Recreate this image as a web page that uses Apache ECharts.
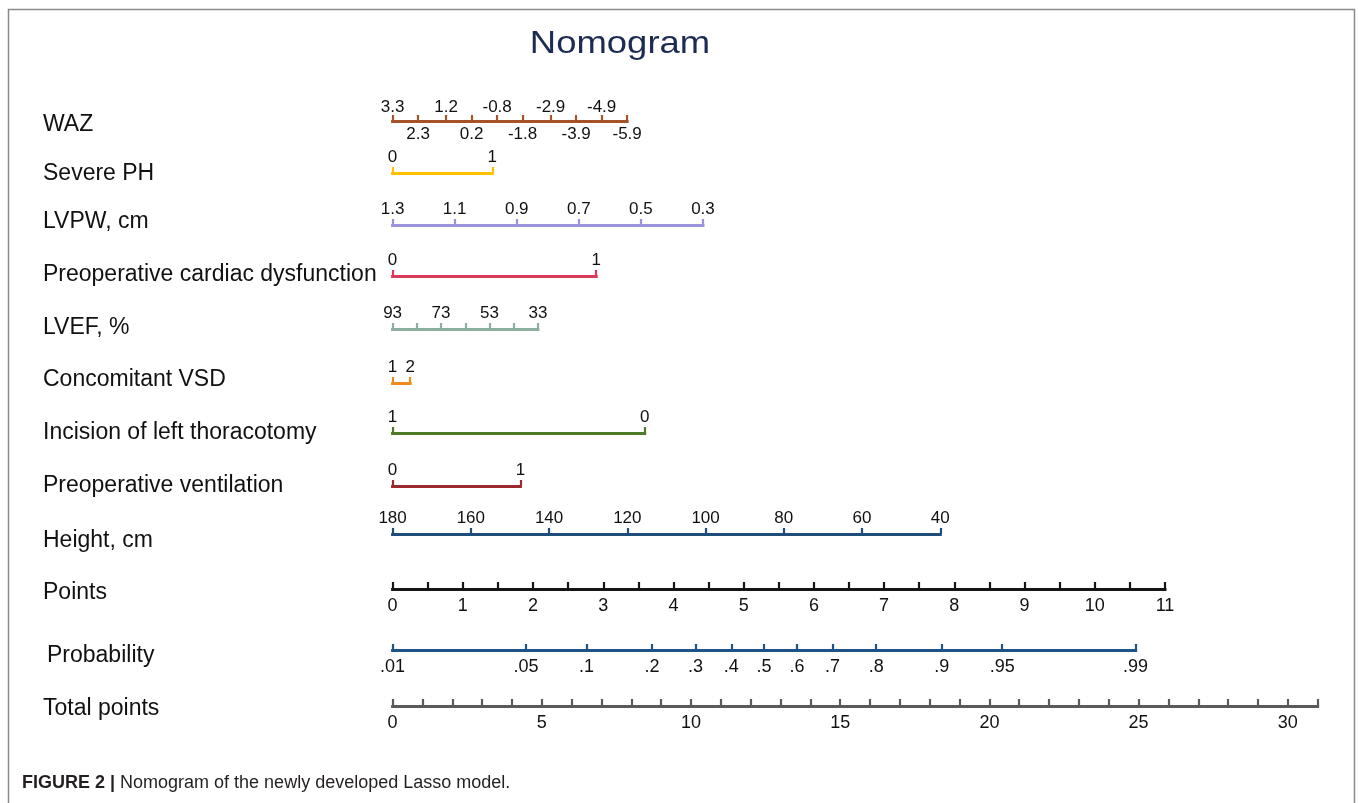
<!DOCTYPE html>
<html>
<head>
<meta charset="utf-8">
<title>Nomogram</title>
<script src="https://cdn.jsdelivr.net/npm/echarts@6.0.0/dist/echarts.min.js"></script>
<style>
  html, body { margin: 0; padding: 0; background: #ffffff; }
  #chart { width: 1358px; height: 803px; }
</style>
</head>
<body>
<div id="chart"></div>
<script>
// ---------------- data ----------------
const rowNames = ['WAZ', 'Severe PH', 'LVPW, cm', 'Preoperative cardiac dysfunction', 'LVEF, %',
  'Concomitant VSD', 'Incision of left thoracotomy', 'Preoperative ventilation', 'Height, cm',
  'Points', 'Probability', 'Total points'];

const wazTicks = [3.3, 2.3, 1.2, 0.2, -0.8, -1.8, -2.9, -3.9, -4.9, -5.9];
const wazLabelsAbove = [3.3, 1.2, -0.8, -2.9, -4.9];
const wazLabelsBelow = [2.3, 0.2, -1.8, -3.9, -5.9];
const severePH = [0, 1];
const lvpw = [1.3, 1.1, 0.9, 0.7, 0.5, 0.3];
const cardiacDysfunction = [0, 1];
const lvefTicks = [93, 83, 73, 63, 53, 43, 33];
const lvefLabels = [93, 73, 53, 33];
const concomitantVSD = [1, 2];
const incisionLeftThoracotomy = [1, 0];
const preopVentilation = [0, 1];
const heightCm = [180, 160, 140, 120, 100, 80, 60, 40];

const pointsTicks = [0, 0.5, 1, 1.5, 2, 2.5, 3, 3.5, 4, 4.5, 5, 5.5, 6, 6.5, 7, 7.5, 8, 8.5, 9, 9.5, 10, 10.5, 11];
const pointsLabels = [0, 1, 2, 3, 4, 5, 6, 7, 8, 9, 10, 11];
const probabilityValues = [0.01, 0.05, 0.1, 0.2, 0.3, 0.4, 0.5, 0.6, 0.7, 0.8, 0.9, 0.95, 0.99];
const probabilityLabels = ['.01', '.05', '.1', '.2', '.3', '.4', '.5', '.6', '.7', '.8', '.9', '.95', '.99'];
const totalPointsTicks = [0, 1, 2, 3, 4, 5, 6, 7, 8, 9, 10, 11, 12, 13, 14, 15, 16, 17, 18, 19, 20,
  21, 22, 23, 24, 25, 26, 27, 28, 29, 30, 31];
const totalPointsLabels = [0, 5, 10, 15, 20, 25, 30];

// points spanned by each predictor scale (in "Points" units)
const predictorPointSpan = [3.34, 1.42, 4.42, 2.90, 2.07, 0.25, 3.59, 1.82, 7.80];
// total points at which the probability scale ends (.01 sits at 0)
const probabilityTotalSpan = 24.9;

// ---------------- layout ----------------
const LEFT = 392.6;
const PX_PER_POINT = (1165 - LEFT) / 11;
const PX_PER_TOTAL = (1287.8 - LEFT) / 30;
const rowY = [121, 173, 225, 276, 329, 383, 433, 486, 534, 589, 650, 706];
const labelY = [125, 174, 222, 275, 328, 380, 433, 486, 541, 593, 656, 709];
const labelX = [43, 43, 43, 43, 43, 43, 43, 43, 43, 43, 47, 43];
const colors = ['#a5522b', '#ffc000', '#9b93dc', '#d93a5c', '#8caf9f', '#f08a1c',
  '#4f7a28', '#9a2a2e', '#1f4d7a', '#151515', '#1f5287', '#5a5a5a'];
const FONT = '"Liberation Sans", Arial, Helvetica, sans-serif';

const logit = p => Math.log(p / (1 - p));
const fmt = v => String(Math.round(v * 100) / 100);

const grids = [];
const xAxes = [];
const yAxes = [];

function addGrid(y, width) {
  grids.push({ left: LEFT, top: y, width: width, height: 0, outerBoundsMode: 'none', containLabel: false });
  yAxes.push({ type: 'value', gridIndex: grids.length - 1, show: false, min: 0, max: 1 });
  return grids.length - 1;
}

function addAxis(gi, o) {
  xAxes.push({
    type: 'value',
    gridIndex: gi,
    position: o.position,
    min: o.min,
    max: o.max,
    inverse: !!o.inverse,
    splitLine: { show: false },
    axisLine: { show: o.line !== false, onZero: false, lineStyle: { color: o.color, width: o.lineWidth || 3, cap: 'square' } },
    axisTick: {
      show: o.line !== false,
      inside: o.position === 'bottom',
      length: o.tickLength || 6,
      customValues: o.ticks,
      lineStyle: { color: o.color, width: 2.2 }
    },
    minorTick: { show: false },
    axisLabel: {
      show: true,
      customValues: o.labels,
      margin: o.margin,
      color: '#111',
      fontSize: o.fontSize || 17,
      fontFamily: FONT,
      formatter: o.formatter || (v => fmt(v))
    }
  });
}

// predictor rows (labels above the line, ticks pointing up)
const predictorRows = [
  { ticks: wazTicks, labels: wazLabelsAbove },
  { ticks: severePH, labels: severePH },
  { ticks: lvpw, labels: lvpw },
  { ticks: cardiacDysfunction, labels: cardiacDysfunction },
  { ticks: lvefTicks, labels: lvefLabels },
  { ticks: concomitantVSD, labels: concomitantVSD },
  { ticks: incisionLeftThoracotomy, labels: incisionLeftThoracotomy },
  { ticks: preopVentilation, labels: preopVentilation },
  { ticks: heightCm, labels: heightCm }
];

predictorRows.forEach((r, i) => {
  const first = r.ticks[0];
  const last = r.ticks[r.ticks.length - 1];
  const gi = addGrid(rowY[i], predictorPointSpan[i] * PX_PER_POINT);
  addAxis(gi, {
    position: 'top',
    min: Math.min(first, last),
    max: Math.max(first, last),
    inverse: first > last,
    color: colors[i],
    ticks: r.ticks,
    labels: r.labels,
    margin: i === 0 ? 5 : 7,
    fontSize: 17
  });
  if (i === 0) {
    // WAZ: alternate labels written under the line
    addAxis(gi, {
      position: 'bottom',
      min: Math.min(first, last),
      max: Math.max(first, last),
      inverse: true,
      color: colors[i],
      line: false,
      ticks: wazLabelsBelow,
      labels: wazLabelsBelow,
      margin: 5,
      fontSize: 17
    });
  }
});

// Points row
{
  const gi = addGrid(rowY[9], 11 * PX_PER_POINT);
  addAxis(gi, {
    position: 'bottom', min: 0, max: 11, color: colors[9], lineWidth: 3, tickLength: 7,
    ticks: pointsTicks, labels: pointsLabels, margin: 8, fontSize: 18
  });
}
// Probability row (logit scale)
{
  const gi = addGrid(rowY[10], probabilityTotalSpan * PX_PER_TOTAL);
  const lv = probabilityValues.map(logit);
  addAxis(gi, {
    position: 'bottom', min: lv[0], max: lv[lv.length - 1], color: colors[10], lineWidth: 3, tickLength: 6,
    ticks: lv, labels: lv, margin: 8, fontSize: 18,
    formatter: v => {
      let best = 0;
      lv.forEach((x, k) => { if (Math.abs(x - v) < Math.abs(lv[best] - v)) best = k; });
      return probabilityLabels[best];
    }
  });
}
// Total points row
{
  const gi = addGrid(rowY[11], 31 * PX_PER_TOTAL);
  addAxis(gi, {
    position: 'bottom', min: 0, max: 31, color: colors[11], lineWidth: 3, tickLength: 7,
    ticks: totalPointsTicks, labels: totalPointsLabels, margin: 8, fontSize: 18
  });
}

// ---------------- graphics: frame, title, row names, caption ----------------
const graphics = [
  { type: 'rect', shape: { x: 8.5, y: 9.5, width: 1346, height: 820 },
    style: { fill: 'none', stroke: '#8a8a8a', lineWidth: 1.5 }, silent: true },
  { type: 'text', x: 620, y: 44, scaleX: 1.14,
    style: { text: 'Nomogram', fill: '#1c2b52', font: '32px ' + FONT, textAlign: 'center', textVerticalAlign: 'middle' } }
];
rowNames.forEach((name, i) => {
  graphics.push({ type: 'text', x: labelX[i], y: labelY[i],
    style: { text: name, fill: '#111', font: '23px ' + FONT, textAlign: 'left', textVerticalAlign: 'middle' } });
});
graphics.push({ type: 'text', x: 22, y: 783,
  style: {
    text: '{b|FIGURE 2 |} Nomogram of the newly developed Lasso model.',
    fill: '#231f20', font: '18px ' + FONT, textAlign: 'left', textVerticalAlign: 'middle',
    rich: { b: { fontWeight: 'bold', fontSize: 18, fontFamily: FONT, fill: '#231f20' } }
  } });

const chart = echarts.init(document.getElementById('chart'), null, { renderer: 'canvas' });
chart.setOption({
  backgroundColor: '#ffffff',
  animation: false,
  grid: grids,
  xAxis: xAxes,
  yAxis: yAxes,
  series: [],
  graphic: graphics
});
</script>
</body>
</html>
